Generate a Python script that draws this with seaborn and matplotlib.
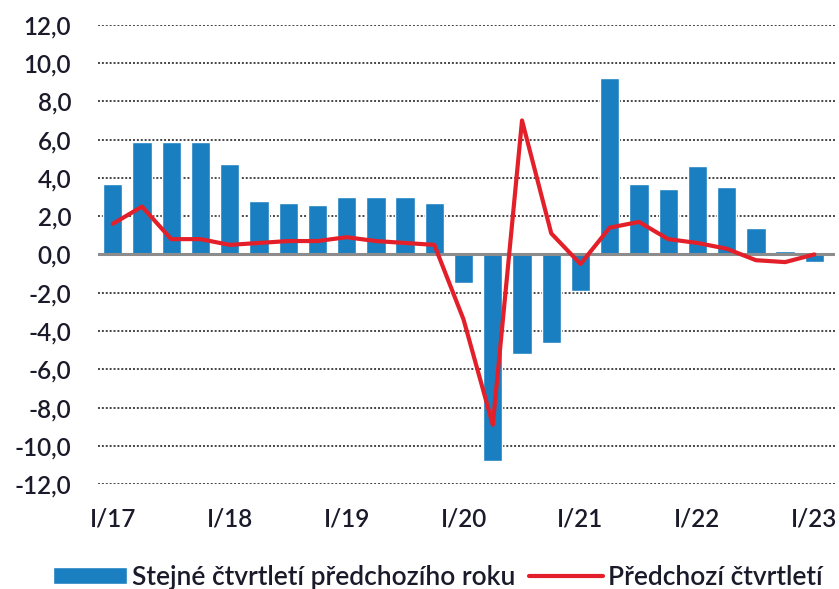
import numpy as np
import pandas as pd
import matplotlib
matplotlib.use("Agg")
import matplotlib.pyplot as plt
import seaborn as sns

# Data
kvartaly = ["I/17", "II/17", "III/17", "IV/17",
            "I/18", "II/18", "III/18", "IV/18",
            "I/19", "II/19", "III/19", "IV/19",
            "I/20", "II/20", "III/20", "IV/20",
            "I/21", "II/21", "III/21", "IV/21",
            "I/22", "II/22", "III/22", "IV/22",
            "I/23"]
stejne_ctvrtleti = [3.7, 5.9, 5.9, 5.9,
                    4.7, 2.8, 2.7, 2.6,
                    3.0, 3.0, 3.0, 2.7,
                    -1.5, -10.8, -5.2, -4.6,
                    -1.9, 9.2, 3.7, 3.4,
                    4.6, 3.5, 1.4, 0.2,
                    -0.4]
predchozi_ctvrtleti = [1.6, 2.5, 0.8, 0.8,
                       0.5, 0.6, 0.7, 0.7,
                       0.9, 0.7, 0.6, 0.5,
                       -3.4, -8.9, 7.0, 1.1,
                       -0.5, 1.4, 1.7, 0.8,
                       0.6, 0.3, -0.3, -0.4,
                       0.0]
popisky_x = ["I/17", "I/18", "I/19", "I/20", "I/21", "I/22", "I/23"]

df = pd.DataFrame({
    "kvartal": kvartaly,
    "stejne": stejne_ctvrtleti,
    "predchozi": predchozi_ctvrtleti,
})

sns.set_style("white")
plt.rcParams["font.family"] = ["Lato", "DejaVu Sans"]
barva_text = "#1a1a2a"
pismo = dict(fontsize=17.5, fontweight="semibold")

fig = plt.figure(figsize=(8.39, 5.89), dpi=100)
ax = fig.add_axes([0.117, 0.178, 0.878, 0.78])

# Mrizka
for y in np.arange(-12, 13, 2):
    if y == 0:
        continue
    ax.axhline(y, color="#444444", lw=1.4, ls=(0, (1.0, 1.0)), zorder=0)

sns.barplot(data=df, x="kvartal", y="stejne", color="#1a7fc1", saturation=1,
            width=0.66, ax=ax, zorder=2, label="Stejné čtvrtletí předchozího roku")
ax.axhline(0, color="#8c8c8c", lw=2.2, zorder=3)
sns.lineplot(data=df, x="kvartal", y="predchozi", color="#e3202a", lw=3,
             ax=ax, zorder=4, label="Předchozí čtvrtletí", sort=False)

ax.set_ylim(-12, 12)
ax.set_xlim(-0.5, 24.7)
ax.set_yticks(np.arange(-12, 13, 2))
ax.set_yticklabels([f"{v:.1f}".replace(".", ",") for v in np.arange(-12, 13, 2)],
                   color=barva_text, **pismo)
pozice = [kvartaly.index(p) for p in popisky_x]
ax.set_xticks(pozice)
ax.set_xticklabels(popisky_x, color=barva_text, **pismo)
ax.tick_params(axis="y", length=0, pad=19.5)
ax.tick_params(axis="x", length=0, pad=17)
ax.set_xlabel("")
ax.set_ylabel("")
sns.despine(ax=ax, left=True, bottom=True)

h, l = ax.get_legend_handles_labels()
ax.get_legend().remove()
# sloupce prvni, cara druha
poradi = [l.index("Stejné čtvrtletí předchozího roku"), l.index("Předchozí čtvrtletí")]
fig.legend([h[i] for i in poradi], [l[i] for i in poradi],
           loc="center", bbox_to_anchor=(0.522, 0.02), ncol=2, frameon=False,
           prop={"size": 19, "weight": "semibold"}, handlelength=2.8,
           handleheight=0.6, handletextpad=0.2, columnspacing=0.5,
           labelcolor=barva_text)

fig.savefig("out.png", dpi=100)
